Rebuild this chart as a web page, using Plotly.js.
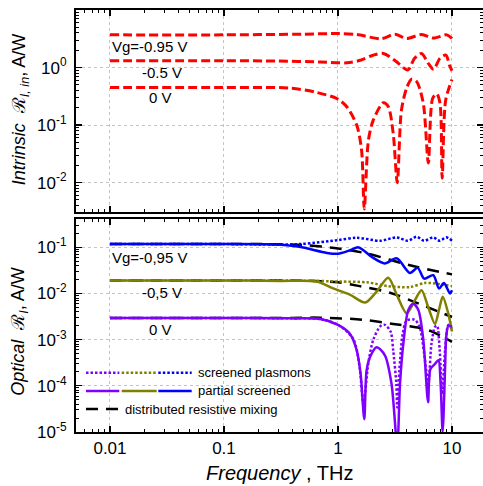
<!DOCTYPE html>
<html>
<head>
<meta charset="utf-8">
<script src="https://cdn.plot.ly/plotly-3.0.1.min.js"></script>
<style>html,body{margin:0;padding:0;background:#fff;}</style>
</head>
<body>
<div id="chart" style="width:483px;height:486px;"></div>
<script>
// ---------- DATA ----------
// Top panel: intrinsic responsivity, A/W
var fTopA = [0.01, 0.1, 0.5, 1.0, 1.46, 2.4, 3.16, 4.0, 5.4, 6.9, 9.0, 10];
var rInA  = [3.7, 3.7, 3.8, 3.9, 3.75, 3.17, 3.8, 3.2, 3.75, 3.25, 3.7, 3.2];          // Vg=-0.95 V

var fTopB = [0.01, 0.1, 0.3, 0.7, 1.2, 1.6, 2.0, 2.5, 3.2, 4.1, 4.7, 5.4, 6.2, 6.9, 7.85, 8.85, 9.5, 10];
var rInB  = [1.31, 1.31, 1.3, 1.25, 1.21, 1.35, 1.62, 1.76, 1.3, 0.91, 1.45, 1.76, 1.18, 0.93, 1.45, 1.65, 1.1, 0.88]; // -0.5 V

var fTopC = [0.01, 0.1, 0.38, 0.65, 0.975, 1.19, 1.46, 1.61, 1.70, 1.85, 2.04, 2.5, 2.76, 3.05, 3.31, 3.6, 4.0, 4.43, 4.9, 5.6, 6.2, 6.76, 7.34, 7.85, 8.2, 8.8, 10];
var rInC  = [0.45, 0.45, 0.44, 0.37, 0.29, 0.21, 0.1, 0.037, 0.0035, 0.055, 0.122, 0.245, 0.21, 0.072, 0.01, 0.18, 0.44, 0.63, 0.57, 0.24, 0.022, 0.29, 0.35, 0.24, 0.012, 0.27, 0.62]; // 0 V

// Bottom panel: optical responsivity, A/W
// Vg=-0.95 V (blue)
var fBlueP = [0.01, 0.1, 0.3, 0.46, 0.8, 1.0, 1.25, 1.52, 1.98, 2.57, 3.27, 4.27, 5.0, 5.7, 6.85, 7.7, 8.5, 9.6, 10];
var blueP  = [0.118, 0.118, 0.115, 0.103, 0.076, 0.073, 0.085, 0.1, 0.062, 0.045, 0.058, 0.028, 0.036, 0.021, 0.025, 0.0128, 0.017, 0.01, 0.0118];
var fBlueS = [0.01, 0.1, 0.46, 1.0, 1.46, 2.35, 3.27, 4.1, 4.9, 5.7, 6.85, 7.8, 8.9, 10];
var blueS  = [0.118, 0.118, 0.118, 0.144, 0.162, 0.139, 0.165, 0.139, 0.17, 0.139, 0.165, 0.139, 0.165, 0.14];
var fBlueD = [0.01, 0.3, 0.5, 1.0, 1.78, 4.27, 10];
var blueD  = [0.118, 0.117, 0.112, 0.095, 0.074, 0.041, 0.026];

// -0.5 V (olive)
var fOliveP = [0.01, 0.1, 0.31, 0.65, 0.91, 1.27, 1.73, 2.18, 2.76, 3.3, 4.0, 4.7, 5.4, 6.2, 7.1, 7.7, 8.3, 9.2, 10];
var oliveP  = [0.0192, 0.0192, 0.0188, 0.0182, 0.0129, 0.0095, 0.0064, 0.011, 0.022, 0.009, 0.0037, 0.007, 0.0118, 0.005, 0.0022, 0.0045, 0.0085, 0.004, 0.0015];
var fOliveS = [0.01, 0.1, 0.5, 1.04, 1.8, 2.76, 4.27, 5.8, 7.8, 10];
var oliveS  = [0.0192, 0.0192, 0.019, 0.0182, 0.0175, 0.0145, 0.0138, 0.017, 0.016, 0.0145];
var fOliveD = [0.01, 0.3, 0.5, 1.0, 1.55, 2.9, 4.6, 10];
var oliveD  = [0.0192, 0.0192, 0.019, 0.0175, 0.0145, 0.0103, 0.0067, 0.0031];

// 0 V (violet)
var fVioP = [0.01, 0.1, 0.4, 0.7, 1.0, 1.27, 1.46, 1.58, 1.70, 1.78, 1.91, 2.18, 2.58, 2.95, 3.31, 3.5, 3.74, 4.14, 4.58, 5.07, 5.6, 6.17, 6.46, 7.1, 7.6, 7.95, 8.28, 8.7, 8.9, 9.3, 10];
var vioP  = [0.00295, 0.00295, 0.0029, 0.0028, 0.0021, 0.00135, 0.00059, 0.00018, 0.000019, 0.00021, 0.00042, 0.00069, 0.00046, 0.00011, 0.000005, 0.00011, 0.00081, 0.0044, 0.006, 0.0044, 0.001, 0.000044, 0.00023, 0.0003, 0.00036, 0.00011, 0.00001, 0.00025, 0.00115, 0.002, 0.0019];
var fVioS = [0.01, 0.1, 0.4, 0.7, 1.0, 1.36, 1.55, 1.67, 1.85, 2.04, 2.35, 2.58, 2.9, 3.05, 3.25, 3.31, 3.45, 3.7, 4.0, 4.7, 5.2, 5.7, 6.2, 6.6, 7.1, 7.4, 7.8, 8.2, 8.7, 9.3, 10];
var vioS  = [0.00295, 0.00295, 0.0029, 0.0028, 0.0021, 0.00105, 0.00025, 0.00004, 0.00032, 0.001, 0.00195, 0.0021, 0.00148, 0.00059, 0.00011, 0.000034, 0.00021, 0.00135, 0.0026, 0.0027, 0.0019, 0.0005, 0.00011, 0.0008, 0.0019, 0.002, 0.0006, 0.000067, 0.0006, 0.0021, 0.0017];
var fVioD = [0.01, 0.3, 0.7, 1.67, 3.05, 5.2, 6.7, 10];
var vioD  = [0.00295, 0.00295, 0.003, 0.0027, 0.0022, 0.0018, 0.0015, 0.0009];

// Tick labels
var xTickVals = [0.01, 0.1, 1, 10];
var xTickText = ['0.01', '0.1', '1', '10'];
var yTopVals = [0.01, 0.1, 1, 10];
var yTopText = ['10<sup>-2</sup>', '10<sup>-1</sup>', '10<sup>0</sup>', '10<sup>1</sup>'];
var yBotVals = [1e-5, 1e-4, 1e-3, 1e-2, 1e-1];
var yBotText = ['10<sup>-5</sup>', '10<sup>-4</sup>', '10<sup>-3</sup>', '10<sup>-2</sup>', '10<sup>-1</sup>'];

// Text labels
var topLabels = ['Vg=-0.95 V', '-0.5 V', '0 V'];
var botLabels = ['Vg=-0,95 V', '-0,5 V', '0 V'];
var legendTexts = ['screened plasmons', 'partial screened', 'distributed resistive mixing'];

// ---------- STYLE ----------
var RED = '#ff0000', BLUE = '#0000ff', OLIVE = '#808000', VIO = '#8000ff';
var FONT = 'Liberation Sans, Arial, sans-serif';

function minorVals(lo, hi) {
  var v = [];
  for (var d = lo; d <= hi; d++) for (var k = 2; k <= 9; k++) v.push(k * Math.pow(10, d));
  return v;
}

function line(x, y, color, dash, width, xa, ya) {
  return {x: x, y: y, type: 'scatter', mode: 'lines', xaxis: xa, yaxis: ya,
          line: {color: color, dash: dash, width: width, shape: 'spline', smoothing: 0.8},
          hoverinfo: 'skip', showlegend: false};
}

var traces = [
  line(fTopA, rInA, RED, '9px,4px', 3, 'x2', 'y2'),
  line(fTopB, rInB, RED, '9px,4px', 3, 'x2', 'y2'),
  line(fTopC, rInC, RED, '9px,4px', 3, 'x2', 'y2'),
  line(fBlueD, blueD, '#000', '12px,8px', 2.5, 'x', 'y'),
  line(fOliveD, oliveD, '#000', '12px,8px', 2.5, 'x', 'y'),
  line(fVioD, vioD, '#000', '12px,8px', 2.5, 'x', 'y'),
  line(fBlueS, blueS, BLUE, '2.5px,2px', 2.5, 'x', 'y'),
  line(fOliveS, oliveS, OLIVE, '2.5px,2px', 2.5, 'x', 'y'),
  line(fVioS, vioS, VIO, '2.5px,2px', 2.5, 'x', 'y'),
  line(fBlueP, blueP, BLUE, 'solid', 2.5, 'x', 'y'),
  line(fOliveP, oliveP, OLIVE, 'solid', 2.5, 'x', 'y'),
  line(fVioP, vioP, VIO, 'solid', 2.5, 'x', 'y')
];

var commonAxis = {
  type: 'log', showline: true, linecolor: '#000', linewidth: 2, mirror: 'allticks',
  ticks: 'inside', ticklen: 6, tickwidth: 1.3, tickcolor: '#000',
  showgrid: true, gridcolor: '#c4c4c4', griddash: 'dot', gridwidth: 1,
  zeroline: false, tickfont: {family: FONT, size: 17, color: '#000'}
};
function ax(extra) { return Object.assign({}, JSON.parse(JSON.stringify(commonAxis)), extra); }

var xMinor = {tickmode: 'array', tickvals: minorVals(-3, 1), ticks: 'inside', ticklen: 3, tickcolor: '#000', tickwidth: 1, showgrid: false};

var layout = {
  width: 483, height: 486,
  margin: {l: 76, r: 0, t: 10, b: 54},
  paper_bgcolor: '#fff', plot_bgcolor: '#fff',
  font: {family: FONT, color: '#000'},
  showlegend: false,
  xaxis: ax({range: [-2.298, 1.272], domain: [0, 1], anchor: 'y', tickmode: 'array',
             tickvals: xTickVals, ticktext: xTickText, minor: xMinor, ticklabelstandoff: 0}),
  yaxis: ax({range: [-5, -0.385], domain: [0, 0.5047], anchor: 'x', tickmode: 'array',
             tickvals: yBotVals, ticktext: yBotText, ticklabelstandoff: 4,
             minor: {tickmode: 'array', tickvals: minorVals(-5, -1), ticks: 'inside', ticklen: 3, tickcolor: '#000', tickwidth: 1, showgrid: false}}),
  xaxis2: ax({range: [-2.298, 1.272], domain: [0, 1], anchor: 'y2', tickmode: 'array',
              tickvals: xTickVals, ticktext: xTickText, showticklabels: false, minor: xMinor}),
  yaxis2: ax({range: [-2.51, 1], domain: [0.5213, 1], anchor: 'x2', tickmode: 'array',
              tickvals: yTopVals, ticktext: yTopText, ticklabelstandoff: 4,
              minor: {tickmode: 'array', tickvals: minorVals(-3, 0), ticks: 'inside', ticklen: 3, tickcolor: '#000', tickwidth: 1, showgrid: false}}),
  shapes: [],
  annotations: []
};

function txt(x, y, text, size, anchor, extra) {
  return Object.assign({xref: 'paper', yref: 'paper', x: x, y: y, text: text, showarrow: false,
    xanchor: anchor || 'left', yanchor: 'middle', font: {family: FONT, size: size, color: '#000'}}, extra || {});
}

// curve labels
layout.annotations.push(txt(0.0835, 0.913, topLabels[0], 15));
layout.annotations.push(txt(0.1572, 0.853, topLabels[1], 15));
layout.annotations.push(txt(0.1744, 0.7915, topLabels[2], 15));
layout.annotations.push(txt(0.0835, 0.413, botLabels[0], 15));
layout.annotations.push(txt(0.1572, 0.330, botLabels[1], 15));
layout.annotations.push(txt(0.1744, 0.244, botLabels[2], 15));

// axis titles
layout.annotations.push(txt(-0.1376, 0.765, '<i>Intrinsic</i>  ℛ<sub><i>I, in</i></sub>, A/W', 18, 'center', {textangle: -90}));
layout.annotations.push(txt(-0.1376, 0.24, '<i>Optical</i>  ℛ<sub><i>I</i></sub>, A/W', 18, 'center', {textangle: -90}));
layout.annotations.push(txt(0.501, -0.097, '<i>Frequency</i> , THz', 20, 'center'));

// legend (inside bottom panel)
var segs = [[0.0246, 0.1064, VIO], [0.1123, 0.1983, OLIVE], [0.2022, 0.2843, BLUE]];
segs.forEach(function (s) {
  layout.shapes.push({type: 'line', xref: 'paper', yref: 'paper', x0: s[0], x1: s[1], y0: 0.1405, y1: 0.1405,
    line: {color: s[2], width: 2.5, dash: '2.5px,2px'}});
  layout.shapes.push({type: 'line', xref: 'paper', yref: 'paper', x0: s[0], x1: s[1], y0: 0.0972, y1: 0.0972,
    line: {color: s[2], width: 2.5}});
});
layout.shapes.push({type: 'line', xref: 'paper', yref: 'paper', x0: 0.0246, x1: 0.1064, y0: 0.0545, y1: 0.0545,
  line: {color: '#000', width: 2.5, dash: '12px,8px'}});
layout.annotations.push(txt(0.2948, 0.1405, legendTexts[0], 13));
layout.annotations.push(txt(0.2948, 0.0972, legendTexts[1], 13));
layout.annotations.push(txt(0.1162, 0.0545, legendTexts[2], 13));

Plotly.newPlot('chart', traces, layout, {staticPlot: true, displayModeBar: false});
</script>
</body>
</html>
